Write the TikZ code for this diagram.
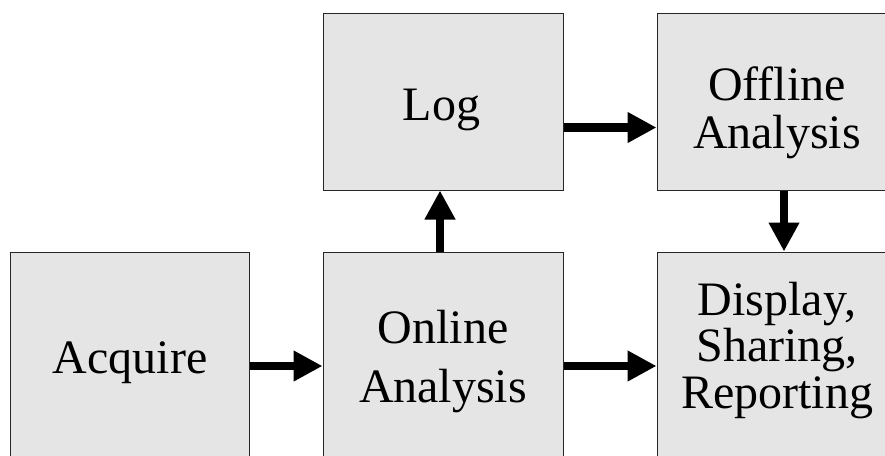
\documentclass[tikz,border=0pt]{standalone}
\usepackage{fontspec}
\setmainfont{Liberation Serif}
\usetikzlibrary{arrows.meta,positioning}

\begin{document}
\begin{tikzpicture}[x=1pt,y=-1pt,
    blk/.style={draw=black!85,line width=1pt,fill=black!10,minimum width=240pt,inner sep=0pt},
    lbl/.style={align=center,inner sep=0pt,anchor=base,font=\fontsize{48}{48}\selectfont},
    arr/.style={line width=8.5pt,-{Triangle[length=29pt,width=29pt]}}]
    \useasboundingbox (0,0) rectangle (885,455);
    \clip (0,0) rectangle (885,455);
    % boxes
    \node[blk,minimum width=239pt,minimum height=228pt] (acq) at (129.5,366) {};
    \node[blk,minimum height=228pt] (onl) at (443,366) {};
    \node[blk,minimum height=177pt] (log) at (443,101.5) {};
    \node[blk,minimum height=177pt] (off) at (777,101.5) {};
    \node[blk,minimum height=228pt] (disp) at (777,366) {};
    % texts (base = last line)
    \node[lbl] (acq-t) at (130,373) {Acquire};
    \node[lbl] (log-t) at (441.5,120) {Log};
    \node[lbl,font=\fontsize{48}{59}\selectfont] (onl-t) at (443,402) {Online\\Analysis};
    \node[lbl] (off-t) at (777,148) {Offline\\Analysis};
    \node[lbl,font=\fontsize{48}{46.5}\selectfont] (disp-t) at (777,408) {Display,\\Sharing,\\Reporting};
    % arrows
    \draw[arr] (acq) -- (onl);
    \draw[arr] (onl) -- (disp);
    \draw[arr] ([xshift=-3pt]onl.north) -- ([xshift=-3pt]log.south);
    \draw[arr] ([yshift=-26pt]log.east) -- ([yshift=-26pt]off.west);
    \draw[arr] ([xshift=7pt]off.south) -- ([xshift=7pt]disp.north);
\end{tikzpicture}
\end{document}
